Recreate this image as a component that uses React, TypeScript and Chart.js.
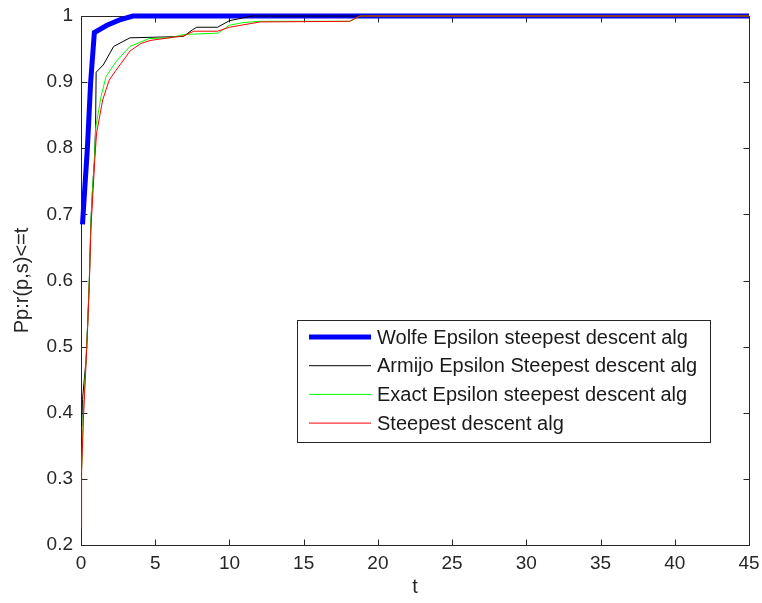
import React, { useEffect, useRef } from "react";
import { Chart, registerables } from "chart.js";
Chart.register(...registerables);

const seriesLabels = [
  "Wolfe Epsilon steepest descent alg",
  "Armijo Epsilon Steepest descent alg",
  "Exact Epsilon steepest descent alg",
  "Steepest descent alg",
];
const seriesColors = ["#0000ff", "#000000", "#00ff00", "#ff0000"];
const seriesWidths = [5, 1, 1, 1];

const wolfeT = [0.1, 0.2, 0.43, 0.65, 0.9, 1.75, 2.6, 3.5, 45];
const wolfeP = [0.685, 0.72, 0.8, 0.9, 0.975, 0.986, 0.994, 1.0, 1.0];

const armijoT = [0.05, 0.1, 0.34, 0.45, 0.56, 0.67, 0.78, 0.9, 0.98, 1.02, 1.5, 2.2, 3.3, 6.9, 7.5, 7.8, 9.2, 10.0, 10.9, 11.5, 45];
const armijoP = [0.38, 0.42, 0.48, 0.535, 0.6, 0.69, 0.74, 0.78, 0.83, 0.915, 0.926, 0.954, 0.967, 0.969, 0.979, 0.983, 0.983, 0.993, 0.997, 1.0, 1.0];

const exactT = [0.03, 0.07, 0.16, 0.34, 0.45, 0.56, 0.67, 0.78, 0.9, 1.0, 1.35, 1.68, 2.36, 3.3, 4.6, 6.0, 6.9, 9.2, 10.0, 10.9, 12.0, 18.1, 18.8, 45];
const exactP = [0.31, 0.33, 0.4, 0.48, 0.535, 0.6, 0.69, 0.74, 0.78, 0.833, 0.878, 0.908, 0.931, 0.954, 0.966, 0.967, 0.972, 0.974, 0.986, 0.99, 0.992, 0.992, 1.0, 1.0];

const steepT = [0.02, 0.04, 0.16, 0.34, 0.45, 0.56, 0.67, 0.8, 0.92, 1.05, 1.46, 1.9, 2.36, 2.92, 3.3, 4.0, 4.65, 6.9, 7.6, 9.2, 10.0, 12.06, 18.1, 18.8, 45];
const steepP = [0.225, 0.31, 0.39, 0.475, 0.53, 0.595, 0.68, 0.73, 0.78, 0.823, 0.873, 0.903, 0.918, 0.935, 0.947, 0.958, 0.963, 0.97, 0.977, 0.977, 0.983, 0.991, 0.992, 1.0, 1.0];

const seriesT = [wolfeT, armijoT, exactT, steepT];
const seriesP = [wolfeP, armijoP, exactP, steepP];

const xMin = 0, xMax = 45, xStep = 5;
const yMin = 0.2, yMax = 1, yStep = 0.1;
const xTitle = "t";
const yTitle = "Pp:r(p,s)<=t";

const FONT = "'Liberation Sans', Arial, sans-serif";

const framePlugin = {
  id: "frame",
  beforeDatasetsDraw(chart: any) {
    const { ctx, chartArea } = chart;
    const { left, right, top, bottom } = chartArea;
    ctx.save();
    ctx.strokeStyle = "#262626";
    ctx.lineWidth = 1;
    const L = Math.round(left) + 0.5, R = Math.round(right) + 0.5;
    const T = Math.round(top) + 0.5, B = Math.round(bottom) + 0.5;
    ctx.strokeRect(L, T, R - L, B - T);
    const tl = 6;
    ctx.beginPath();
    chart.scales.x.ticks.forEach((t: any) => {
      const px = Math.round(chart.scales.x.getPixelForValue(t.value)) + 0.5;
      ctx.moveTo(px, B); ctx.lineTo(px, B - tl);
      ctx.moveTo(px, T); ctx.lineTo(px, T + tl);
    });
    chart.scales.y.ticks.forEach((t: any) => {
      const py = Math.round(chart.scales.y.getPixelForValue(t.value)) + 0.5;
      ctx.moveTo(L, py); ctx.lineTo(L + tl, py);
      ctx.moveTo(R, py); ctx.lineTo(R - tl, py);
    });
    ctx.stroke();
    ctx.restore();
  },
};

const legendPlugin = {
  id: "boxLegend",
  afterDraw(chart: any) {
    const { ctx } = chart;
    const bx = 297, by = 320, bw = 413, bh = 122;
    ctx.save();
    ctx.fillStyle = "#ffffff";
    ctx.fillRect(bx, by, bw, bh);
    ctx.strokeStyle = "#262626";
    ctx.lineWidth = 1;
    ctx.strokeRect(bx + 0.5, by + 0.5, bw, bh);
    ctx.font = `20px ${FONT}`;
    ctx.textBaseline = "middle";
    ctx.textAlign = "left";
    chart.data.datasets.forEach((ds: any, i: number) => {
      const y = by + 17 + i * 28.7;
      ctx.strokeStyle = ds.borderColor;
      ctx.lineWidth = ds.borderWidth;
      ctx.lineCap = "butt";
      ctx.beginPath();
      ctx.moveTo(bx + 12, y);
      ctx.lineTo(bx + 74, y);
      ctx.stroke();
      ctx.fillStyle = "#1a1a1a";
      ctx.fillText(ds.label, bx + 80, y + 1);
    });
    ctx.restore();
  },
};

export default function App() {
  const ref = useRef<HTMLCanvasElement>(null);
  useEffect(() => {
    if (!ref.current) return;
    const datasets = seriesLabels.map((label, i) => ({
      label,
      data: seriesT[i].map((t, j) => ({ x: t, y: seriesP[i][j] })),
      borderColor: seriesColors[i],
      backgroundColor: seriesColors[i],
      borderWidth: seriesWidths[i],
      pointRadius: 0,
      tension: 0,
      fill: false,
      clip: false,
      order: seriesLabels.length - i,
    }));
    const chart = new Chart(ref.current, {
      type: "line",
      data: { datasets },
      options: {
        animation: false,
        responsive: false,
        layout: { padding: { top: 16, right: 13, left: 0, bottom: 0 } },
        plugins: { legend: { display: false }, tooltip: { enabled: false } },
        scales: {
          x: {
            type: "linear",
            min: xMin,
            max: xMax,
            grid: { display: false, drawTicks: false },
            border: { display: false },
            ticks: {
              stepSize: xStep,
              padding: 7,
              color: "#262626",
              font: { family: FONT, size: 19 },
              maxRotation: 0,
            },
            title: {
              display: true,
              text: xTitle,
              color: "#262626",
              font: { family: FONT, size: 20 },
              padding: { top: 0, bottom: 4 },
            },
            afterFit: (s: any) => {
              s.height = 58;
              s.paddingLeft = 0;
              s.paddingRight = 0;
            },
          },
          y: {
            type: "linear",
            min: yMin,
            max: yMax,
            grid: { display: false, drawTicks: false },
            border: { display: false },
            ticks: {
              stepSize: yStep,
              padding: 8,
              color: "#262626",
              font: { family: FONT, size: 19 },
              callback: (v: any) => String(Number(Number(v).toFixed(1))),
            },
            title: {
              display: true,
              text: yTitle,
              color: "#262626",
              font: { family: FONT, size: 20 },
              padding: { top: 10, bottom: 0 },
            },
            afterFit: (s: any) => {
              s.width = 81;
              s.paddingTop = 0;
              s.paddingBottom = 0;
            },
          },
        },
      },
      plugins: [framePlugin, legendPlugin],
    });
    return () => chart.destroy();
  }, []);
  return (
    <div style={{ position: "absolute", left: 0, top: 0, width: 762, height: 603, background: "#fff" }}>
      <canvas ref={ref} width={762} height={603} />
    </div>
  );
}
